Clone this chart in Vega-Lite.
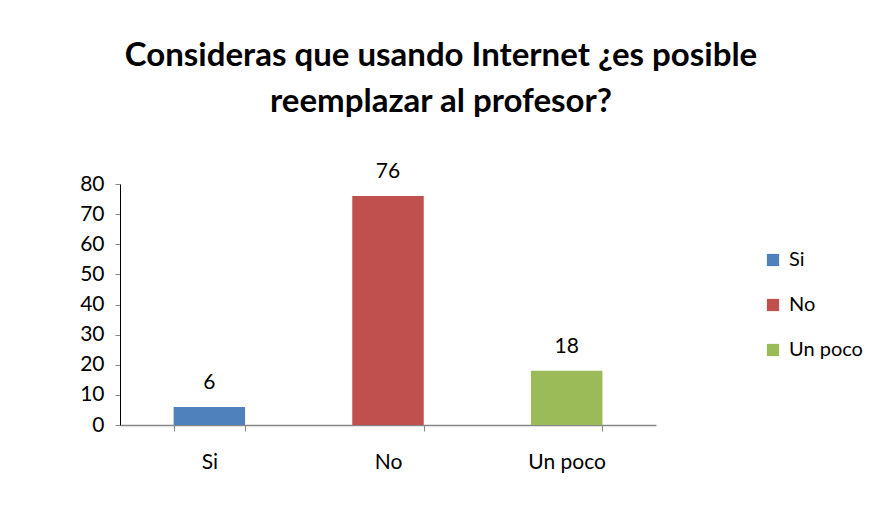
{
  "$schema": "https://vega.github.io/schema/vega-lite/v6.json",
  "autosize": "none",
  "width": 536,
  "height": 241,
  "padding": {"left": 120, "top": 184, "right": 213, "bottom": 95},
  "background": "white",
  "config": {"view": {"stroke": null}},
  "title": {
    "text": ["Consideras que usando Internet ¿es posible", "reemplazar al profesor?"],
    "font": "Lato",
    "fontSize": 33,
    "fontWeight": "bold",
    "color": "black",
    "lineHeight": 46,
    "anchor": "middle",
    "dx": 53,
    "offset": 42
  },
  "data": {
    "values": [
      {"respuesta": "Si", "valor": 6},
      {"respuesta": "No", "valor": 76},
      {"respuesta": "Un poco", "valor": 18}
    ]
  },
  "encoding": {
    "x": {
      "field": "respuesta",
      "type": "nominal",
      "sort": ["Si", "No", "Un poco"],
      "scale": {"paddingInner": 0.6, "paddingOuter": 0.3},
      "axis": {
        "title": null,
        "labelAngle": 0,
        "labelFont": "Lato",
        "labelFontSize": 21,
        "labelColor": "black",
        "labelPadding": 20,
        "domainColor": "#868686",
        "domainWidth": 1.5,
        "tickColor": "#868686",
        "tickSize": 6,
        "tickBand": "extent"
      }
    },
    "y": {
      "field": "valor",
      "type": "quantitative",
      "scale": {"domain": [0, 80]},
      "axis": {
        "title": null,
        "values": [0, 10, 20, 30, 40, 50, 60, 70, 80],
        "grid": false,
        "labelFont": "Lato",
        "labelFontSize": 21,
        "labelColor": "black",
        "labelPadding": 11,
        "domainColor": "black",
        "tickColor": "#868686",
        "tickSize": 5
      }
    }
  },
  "layer": [
    {
      "mark": {"type": "bar"},
      "encoding": {
        "color": {
          "field": "respuesta",
          "type": "nominal",
          "sort": ["Si", "No", "Un poco"],
          "scale": {"domain": ["Si", "No", "Un poco"], "range": ["#4F81BD", "#C0504D", "#9BBB59"]},
          "legend": {
            "title": null,
            "orient": "none",
            "legendX": 643,
            "legendY": 66,
            "symbolType": "square",
            "symbolSize": 150,
            "symbolStrokeWidth": 0,
            "labelFont": "Lato",
            "labelFontSize": 20,
            "labelColor": "black",
            "labelOffset": 6,
            "rowPadding": 25
          }
        }
      }
    },
    {
      "mark": {"type": "text", "dy": -14, "font": "Lato", "fontSize": 21, "color": "black", "baseline": "bottom"},
      "encoding": {"text": {"field": "valor", "type": "quantitative"}}
    }
  ]
}
